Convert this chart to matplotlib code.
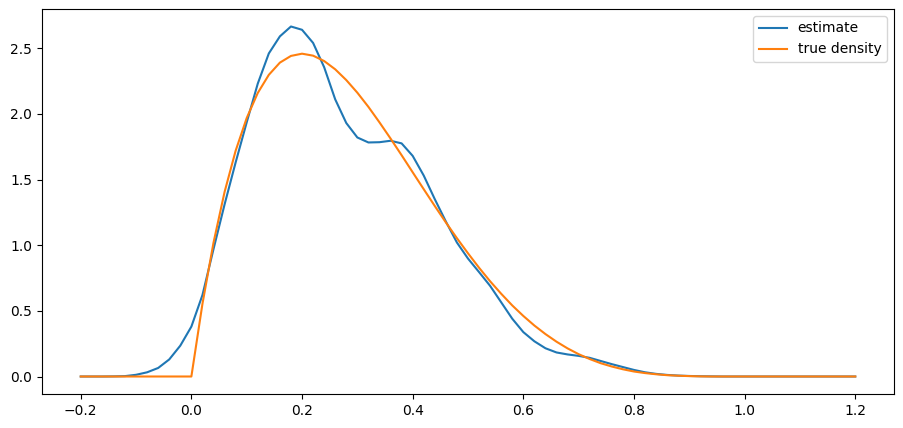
import numpy as np
import matplotlib
matplotlib.use("Agg")
import matplotlib.pyplot as plt

# grid the curves were read on (step 0.02)
x = np.round(np.arange(-0.2, 1.2001, 0.02), 2)

# kernel density estimate
estimate = [
    0.000, 0.000, 0.000, 0.001, 0.003, 0.013, 0.032, 0.065, 0.130, 0.235,   # -0.20 .. -0.02
    0.380, 0.620, 0.970, 1.310, 1.630, 1.935, 2.230, 2.460, 2.590, 2.665,   #  0.00 ..  0.18
    2.640, 2.540, 2.355, 2.110, 1.930, 1.820, 1.782, 1.784, 1.795, 1.775,   #  0.20 ..  0.38
    1.680, 1.530, 1.350, 1.180, 1.020, 0.898, 0.795, 0.690, 0.565, 0.440,   #  0.40 ..  0.58
    0.338, 0.268, 0.215, 0.183, 0.168, 0.157, 0.142, 0.118, 0.094, 0.072,   #  0.60 ..  0.78
    0.050, 0.032, 0.020, 0.012, 0.007, 0.004, 0.002, 0.001, 0.000, 0.000,   #  0.80 ..  0.98
    0.000, 0.000, 0.000, 0.000, 0.000, 0.000, 0.000, 0.000, 0.000, 0.000,   #  1.00 ..  1.18
    0.000,                                                                  #  1.20
]

# true density
true_density = [
    0.000, 0.000, 0.000, 0.000, 0.000, 0.000, 0.000, 0.000, 0.000, 0.000,   # -0.20 .. -0.02
    0.000, 0.553, 1.019, 1.405, 1.719, 1.968, 2.159, 2.297, 2.390, 2.441,   #  0.00 ..  0.18
    2.458, 2.443, 2.402, 2.339, 2.257, 2.161, 2.053, 1.935, 1.812, 1.685,   #  0.20 ..  0.38
    1.555, 1.426, 1.298, 1.173, 1.053, 0.938, 0.828, 0.725, 0.630, 0.541,   #  0.40 ..  0.58
    0.461, 0.388, 0.323, 0.265, 0.214, 0.170, 0.133, 0.101, 0.076, 0.055,   #  0.60 ..  0.78
    0.038, 0.026, 0.017, 0.010, 0.006, 0.003, 0.001, 0.000, 0.000, 0.000,   #  0.80 ..  0.98
    0.000, 0.000, 0.000, 0.000, 0.000, 0.000, 0.000, 0.000, 0.000, 0.000,   #  1.00 ..  1.18
    0.000,                                                                  #  1.20
]

fig = plt.figure(figsize=(9.04, 4.28), dpi=100)
ax = fig.add_axes([42 / 904, 1 - 394 / 428, (894 - 42) / 904, (394 - 9) / 428])
ax.plot(x, estimate, label="estimate")
ax.plot(x, true_density, label="true density")
ax.legend(loc="upper right")

fig.savefig("out.png", dpi=100)
